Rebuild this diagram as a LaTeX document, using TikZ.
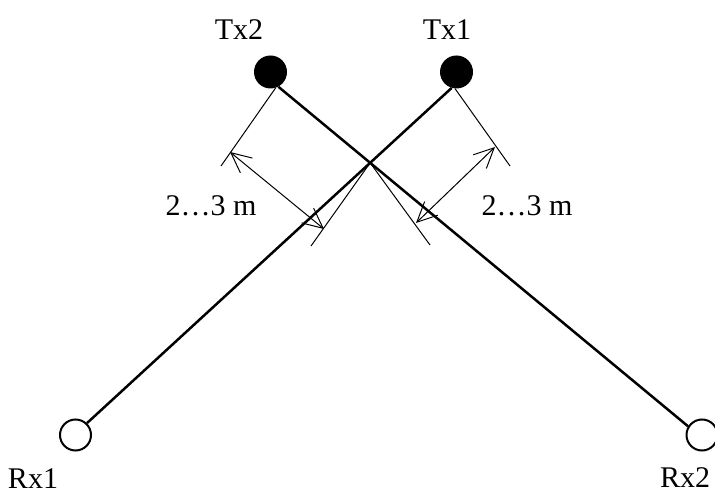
\documentclass[tikz,border=0pt]{standalone}
\usepackage{fontspec}
\setmainfont{Liberation Serif}
\usetikzlibrary{arrows.meta, calc, intersections}

\begin{document}
\begin{tikzpicture}[x=1pt, y=-1pt,
        tx/.style={circle, fill=black, inner sep=0pt, minimum size=33pt},
        rx/.style={circle, draw, line width=2pt, inner sep=0pt, minimum size=31pt},
        link/.style={line width=2.5pt},
        extline/.style={line width=1pt},
        dim/.style={line width=1pt, {Straight Barb[length=20pt, width=19pt]}-{Straight Barb[length=20pt, width=19pt]}},
        lbl/.style={anchor=base, inner sep=0pt, font=\fontsize{30}{36}\selectfont}]
    \useasboundingbox (0,0) rectangle (715,494);

    % Sender und Empfaenger
    \node[tx] (tx2) at (270.5,72) {};
    \node[tx] (tx1) at (456.5,72) {};
    \node[rx] (rx1) at (75.5,435) {};
    \node[rx] (rx2) at (702,435) {};

    \node[lbl] (tx2lbl) at (239,40) {Tx2};
    \node[lbl] (tx1lbl) at (447,40) {Tx1};
    \node[lbl] (rx1lbl) at (33,488) {Rx1};
    \node[lbl] (rx2lbl) at (685,487) {Rx2};

    % Strecken
    \draw[link, name path=a] (tx2.-62) -- (rx2.148);
    \draw[link, name path=b] (tx1.-107) -- (rx1.46);
    \path[name intersections={of=a and b}] coordinate (kreuz) at (intersection-1);

    % Hilfslinien
    \coordinate (h1) at (221,166);
    \coordinate (h2) at (510,166);
    \coordinate (h3) at (311,246);
    \coordinate (h4) at (430,245);
    \draw[extline] (tx2.-72) -- (h1);
    \draw[extline] (tx1.-95) -- (h2);
    \draw[extline] (kreuz) -- (h3);
    \draw[extline] (kreuz) -- (h4);

    % Abstaende
    \coordinate (d1a) at (230,152);
    \coordinate (d1b) at (324,229);
    \coordinate (d2a) at (495,147);
    \coordinate (d2b) at (416,223);
    \draw[dim] (d1a) -- (d1b);
    \draw[dim] (d2a) -- (d2b);
    \node[lbl] (abst1) at (211,216) {2…3 m};
    \node[lbl] (abst2) at (527,216) {2…3 m};
\end{tikzpicture}
\end{document}
